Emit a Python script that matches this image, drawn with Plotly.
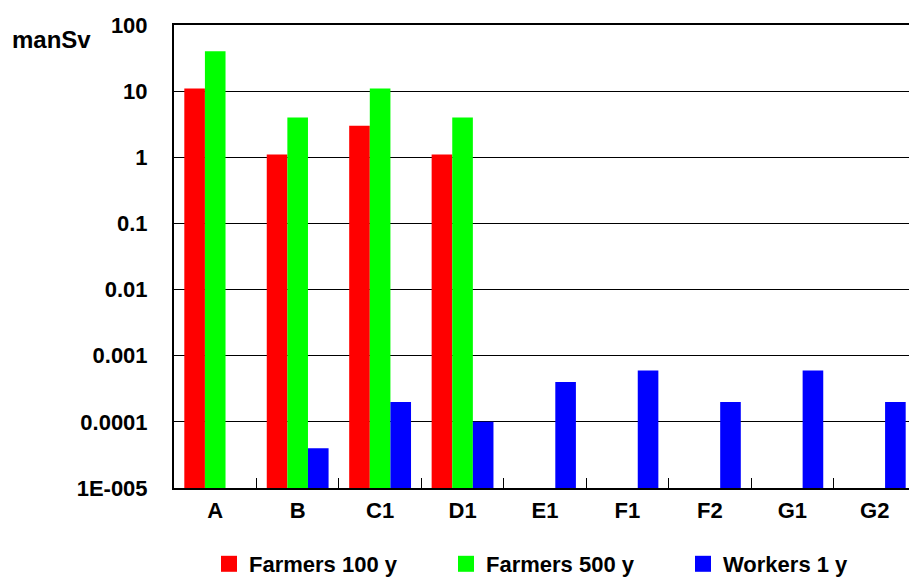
import plotly.graph_objects as go

categories = ["A", "B", "C1", "D1", "E1", "F1", "F2", "G1", "G2"]
farmers_100 = [11, 1.1, 3.0, 1.1, None, None, None, None, None]
farmers_500 = [40, 4.0, 11, 4.0, None, None, None, None, None]
workers_1 = [None, 4e-5, 2e-4, 1e-4, 4e-4, 6e-4, 2e-4, 6e-4, 2e-4]
y_tickvals = [100, 10, 1, 0.1, 0.01, 0.001, 0.0001, 0.00001]
y_ticktext = ["100", "10", "1", "0.1", "0.01", "0.001", "0.0001", "1E-005"]

series = [
    ("Farmers 100 y", farmers_100, "#FF0000"),
    ("Farmers 500 y", farmers_500, "#00FF00"),
    ("Workers 1 y", workers_1, "#0000FF"),
]

FONT = "Liberation Sans, Arial, sans-serif"
fig = go.Figure()
for name, vals, col in series:
    fig.add_trace(go.Bar(x=categories, y=vals, name=name, marker=dict(color=col, line=dict(width=0)),
                         showlegend=False))
for name, vals, col in series:
    fig.add_trace(go.Scatter(x=[None], y=[None], mode="markers", name=name,
                             marker=dict(symbol="square", size=16, color=col)))

fig.update_layout(
    width=909, height=577,
    margin=dict(l=174, r=0, t=25, b=89),
    paper_bgcolor="white", plot_bgcolor="white",
    barmode="group", bargap=0.25, bargroupgap=0,
    font=dict(family=FONT, size=22, color="black"),
    legend=dict(orientation="h", xref="container", x=209 / 909, xanchor="left",
                yref="container", y=(577 - 564) / 577, yanchor="middle",
                entrywidth=192, entrywidthmode="pixels",
                font=dict(family=FONT, size=22, color="black", weight="bold")),
    annotations=[dict(text="<b>manSv</b>", x=(10 - 174) / 735, y=(488 - 40) / 463,
                      xref="paper", yref="paper", xanchor="left", yanchor="middle",
                      showarrow=False, font=dict(family=FONT, size=24, color="black"))],
)
fig.update_xaxes(
    type="category", range=[-0.5, 8.5 - 7 / 82.5],
    showline=True, linecolor="black", linewidth=2, mirror=True,
    ticks="inside", tickson="boundaries", ticklen=10, tickcolor="black", tickwidth=1,
    showgrid=False, ticklabelstandoff=2,
    tickfont=dict(family=FONT, size=22, color="black", weight="bold"),
)
fig.update_yaxes(
    type="log", range=[-5, 2],
    tickvals=y_tickvals, ticktext=y_ticktext,
    showline=True, linecolor="black", linewidth=2,
    showgrid=True, gridcolor="black", gridwidth=1,
    ticks="", ticklabelstandoff=20, zeroline=False,
    tickfont=dict(family=FONT, size=22, color="black", weight="bold"),
)

fig.write_html("out.html", config={"displayModeBar": False},
               post_script="document.body.style.margin='0';document.body.style.overflow='hidden';")
